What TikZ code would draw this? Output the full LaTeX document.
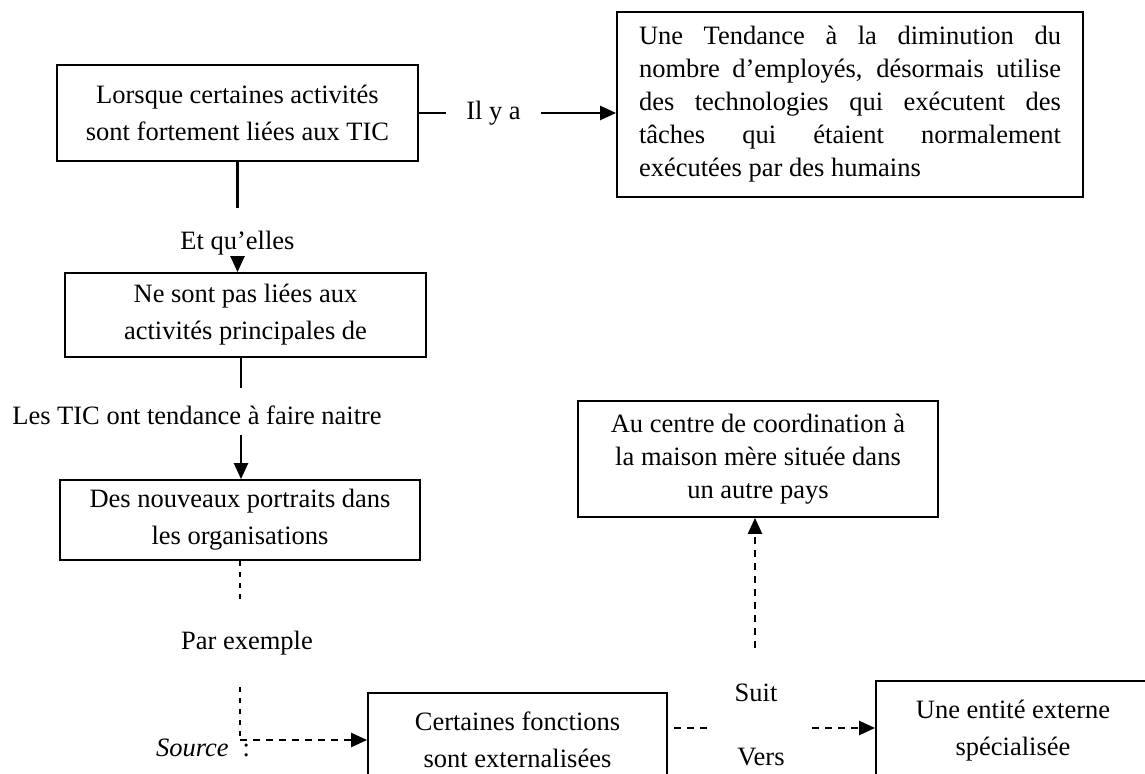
\documentclass[tikz,border=0pt]{standalone}
\usepackage{fontspec}
\setmainfont{Liberation Serif}
\usepackage{tikz}
\usetikzlibrary{positioning,arrows.meta}

\begin{document}
\begin{tikzpicture}[x=0.5pt,y=-0.5pt,
  font=\fontsize{13.25pt}{18.5pt}\selectfont,
  boite/.style={draw,line width=0.9pt,align=center,inner sep=0pt},
  etiq/.style={inner sep=0pt},
  lien/.style={line width=1.2pt},
  fleche/.style={line width=1.2pt,-{Triangle[length=8pt,width=7pt]}},
  tirets/.style={line width=1.2pt,dash pattern=on 3.5pt off 3pt},
  pointill/.style={line width=0.6pt,dash pattern=on 2.5pt off 3pt}]
\useasboundingbox (0,0) rectangle (1145,774);

\node[boite,minimum width=180.5pt,minimum height=48pt] (lorsque) at (237.5,113)
    {Lorsque certaines activités\\sont fortement liées aux TIC};
\node[boite,minimum width=233pt,minimum height=92.5pt,text width=211pt,align=justify,
      font=\fontsize{13.25pt}{16.5pt}\selectfont] (tendance) at (850,104.5)
    {Une Tendance à la diminution du\linebreak nombre d’employés, désormais utilise\linebreak
     des technologies qui exécutent des\linebreak tâches qui étaient normalement\linebreak
     exécutées par des humains};
\node[boite,minimum width=180.5pt,minimum height=42pt] (nesont) at (245.5,315)
    {Ne sont pas liées aux\\activités principales de};
\node[boite,minimum width=180pt,minimum height=40pt] (portraits) at (240,520)
    {Des nouveaux portraits dans\\les organisations};
\node[boite,minimum width=149.5pt,minimum height=47pt] (externe) at (517.5,740)
    {Certaines fonctions\\sont externalisées};
\node[boite,minimum width=180pt,minimum height=58pt,
      font=\fontsize{13.25pt}{16.5pt}\selectfont] (centre) at (758,459)
    {Au centre de coordination à\\la maison mère située dans\\un autre pays};
\node[boite,minimum width=137pt,minimum height=50pt] (entite) at (1013,731)
    {Une entité externe\\spécialisée};

\node[etiq,inner xsep=10pt] (ilya) at (493.5,113) {Il y a};
\node[etiq] (quelles) at (237.5,243) {Et qu’elles};
\node[etiq] (lestic) at (197,415) {Les TIC ont tendance à faire naitre};
\node[etiq] (parex) at (247,643) {Par exemple};
\node[etiq] (source) at (203,748) {\textit{Source}\hspace{7pt}:};
\node[etiq] (suit) at (756,693) {Suit};
\node[etiq] (vers) at (761,757) {Vers};

\coordinate (q1) at (237.5,208);
\coordinate (q2) at (237.5,258);
\coordinate (t1) at (241,388);
\coordinate (t2) at (241,435);
\coordinate (p1) at (240,603);
\coordinate (p2) at (240,687);
\coordinate (p3) at (240,740);
\coordinate (v1) at (674,728);
\coordinate (v2) at (707,728);
\coordinate (v3) at (812,728);
\coordinate (s1) at (755,648);

\draw[lien] (lorsque.east) -- (ilya.west);
\draw[fleche] (ilya.east) -- (ilya.east -| tendance.west);
\draw[lien] (lorsque.south) -- (q1);
\draw[fleche] (q2) -- (q2 |- nesont.north);
\draw[lien] (t1 |- nesont.south) -- (t1);
\draw[fleche] (t2) -- (t2 |- portraits.north);
\draw[pointill] (portraits.south) -- (p1);
\draw[pointill] (p2) -- (p3);
\draw[tirets,fleche] (p3) -- (p3 -| externe.west);
\draw[tirets] (v1) -- (v2);
\draw[tirets,fleche] (v3) -- (v3 -| entite.west);
\draw[tirets,fleche] (s1) -- (s1 |- centre.south);
\end{tikzpicture}
\end{document}
